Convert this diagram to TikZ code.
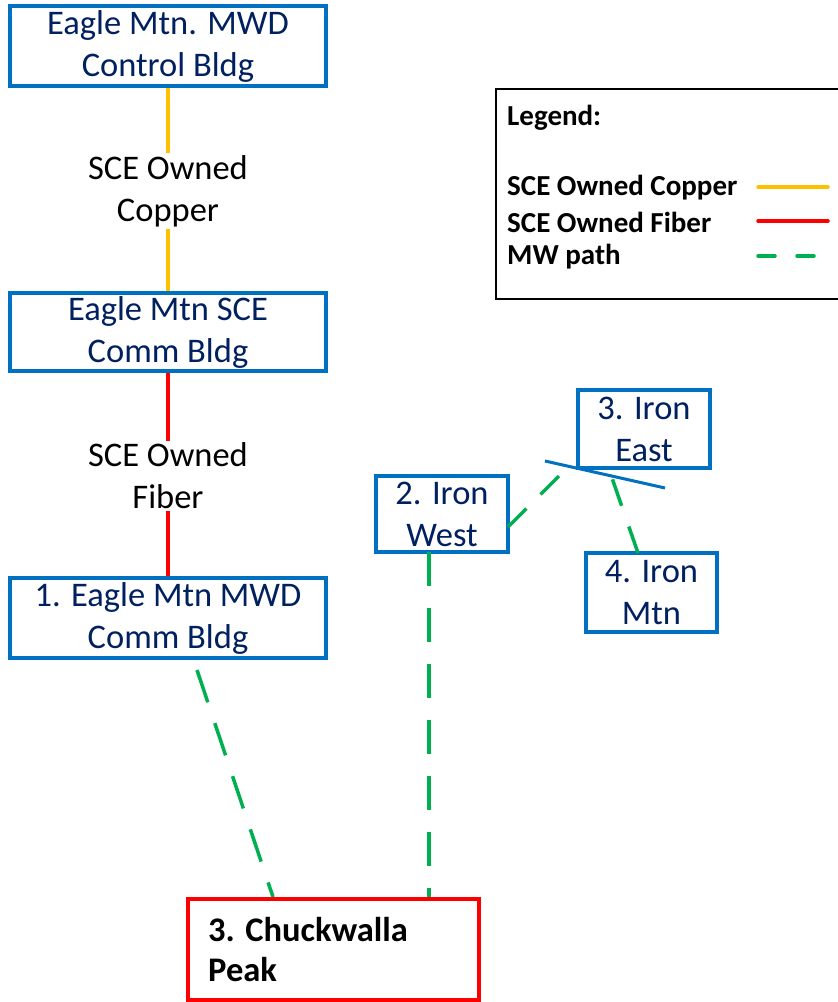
\documentclass[tikz,border=0pt]{standalone}
\usepackage{fontspec}
\setmainfont{Carlito}
\begin{document}
\begin{tikzpicture}[x=1pt,y=-1pt,
  bluebox/.style={draw=boxblue,line width=3.5pt,fill=white,text=navy,align=center,
    font=\fontsize{34.5}{42}\selectfont,inner sep=0pt},
  lbl/.style={align=center,font=\fontsize{34.5}{42}\selectfont,text=black,fill=white,inner sep=2pt},
  legtext/.style={anchor=west,font=\bfseries\fontsize{29}{32}\selectfont,text=black,inner sep=0pt},
  mw/.style={draw=mwgreen,line width=3.5pt,dash pattern=on 34pt off 22pt},
  copper/.style={draw=copperc,line width=3.5pt},
  fiber/.style={draw=fiberc,line width=3.5pt}]
\definecolor{boxblue}{HTML}{0070C0}
\definecolor{navy}{HTML}{002060}
\definecolor{mwgreen}{HTML}{00B050}
\definecolor{copperc}{HTML}{FFC000}
\definecolor{fiberc}{HTML}{FF0000}
\useasboundingbox (0,0) rectangle (838,1002);
% boxes
\node[bluebox,minimum width=316pt,minimum height=80pt] (ctrl) at (168,46) {Eagle Mtn. MWD\\Control Bldg};
\node[bluebox,minimum width=316pt,minimum height=78pt] (sce) at (168,332) {Eagle Mtn SCE\\Comm Bldg};
\node[bluebox,minimum width=316pt,minimum height=80pt] (mwd) at (168,618) {1. Eagle Mtn MWD\\Comm Bldg};
\node[bluebox,minimum width=132pt,minimum height=78pt] (ieast) at (644,429) {3. Iron\\East};
\node[bluebox,minimum width=132pt,minimum height=76pt] (iwest) at (442,514) {2. Iron\\West};
\node[bluebox,minimum width=131pt,minimum height=79pt] (imtn) at (651.5,592.5) {4. Iron\\Mtn};
\node[draw=fiberc,line width=3.5pt,minimum width=291pt,minimum height=101pt,anchor=north west,inner sep=0pt] (chuck) at (186,897) {};
\node[anchor=north west,align=left,font=\bfseries\fontsize{34.5}{40}\selectfont,inner sep=0pt] (chucktext) at (208,917) {3. Chuckwalla\\Peak};
% copper and fiber
\draw[copper] (ctrl.south) -- (sce.north);
\node[lbl] (coplbl) at (168,191) {SCE Owned\\Copper};
\draw[fiber] (sce.south) -- (mwd.north);
\node[lbl] (fiblbl) at (168,476) {SCE Owned\\Fiber};
% antenna bar
\coordinate (barA) at (545,461);
\coordinate (barB) at (665,488);
\draw[draw=boxblue,line width=3pt] (barA) -- (barB);
\coordinate (bw) at (567,468);
\coordinate (bm) at (612,478);
% MW paths
\coordinate (w1) at (508,527);
\draw[mw,dash pattern=on 26pt off 20pt] (w1) -- (bw);
\coordinate (m1) at (638,553);
\draw[mw,dash pattern=on 28pt off 22pt] (m1) -- (bm);
\coordinate (mwdb) at (197,670);
\coordinate (ch1) at (273,897);
\draw[mw] (mwdb) -- (ch1);
\coordinate (iwb) at (429,552);
\coordinate (ch2) at (429,897);
\draw[mw] (iwb) -- (ch2);
% legend
\node[draw=black,line width=2pt,minimum width=350pt,minimum height=210pt,anchor=north west,inner sep=0pt] (legend) at (495,88) {};
\node[legtext] (lg0) at (507,118) {Legend:};
\node[legtext] (lg1) at (507,188) {SCE Owned Copper};
\node[legtext] (lg2) at (507,222) {SCE Owned Fiber};
\node[legtext] (lg3) at (507,257) {MW path};
\coordinate (l1a) at (758,187); \coordinate (l1b) at (828,187);
\coordinate (l2a) at (758,221); \coordinate (l2b) at (828,221);
\coordinate (l3a) at (758,256); \coordinate (l3b) at (828,256);
\draw[copper,line cap=round] (l1a) -- (l1b);
\draw[fiber,line cap=round] (l2a) -- (l2b);
\draw[draw=mwgreen,line width=3.5pt,line cap=round,dash pattern=on 17pt off 22pt] (l3a) -- (l3b);
\end{tikzpicture}
\end{document}
